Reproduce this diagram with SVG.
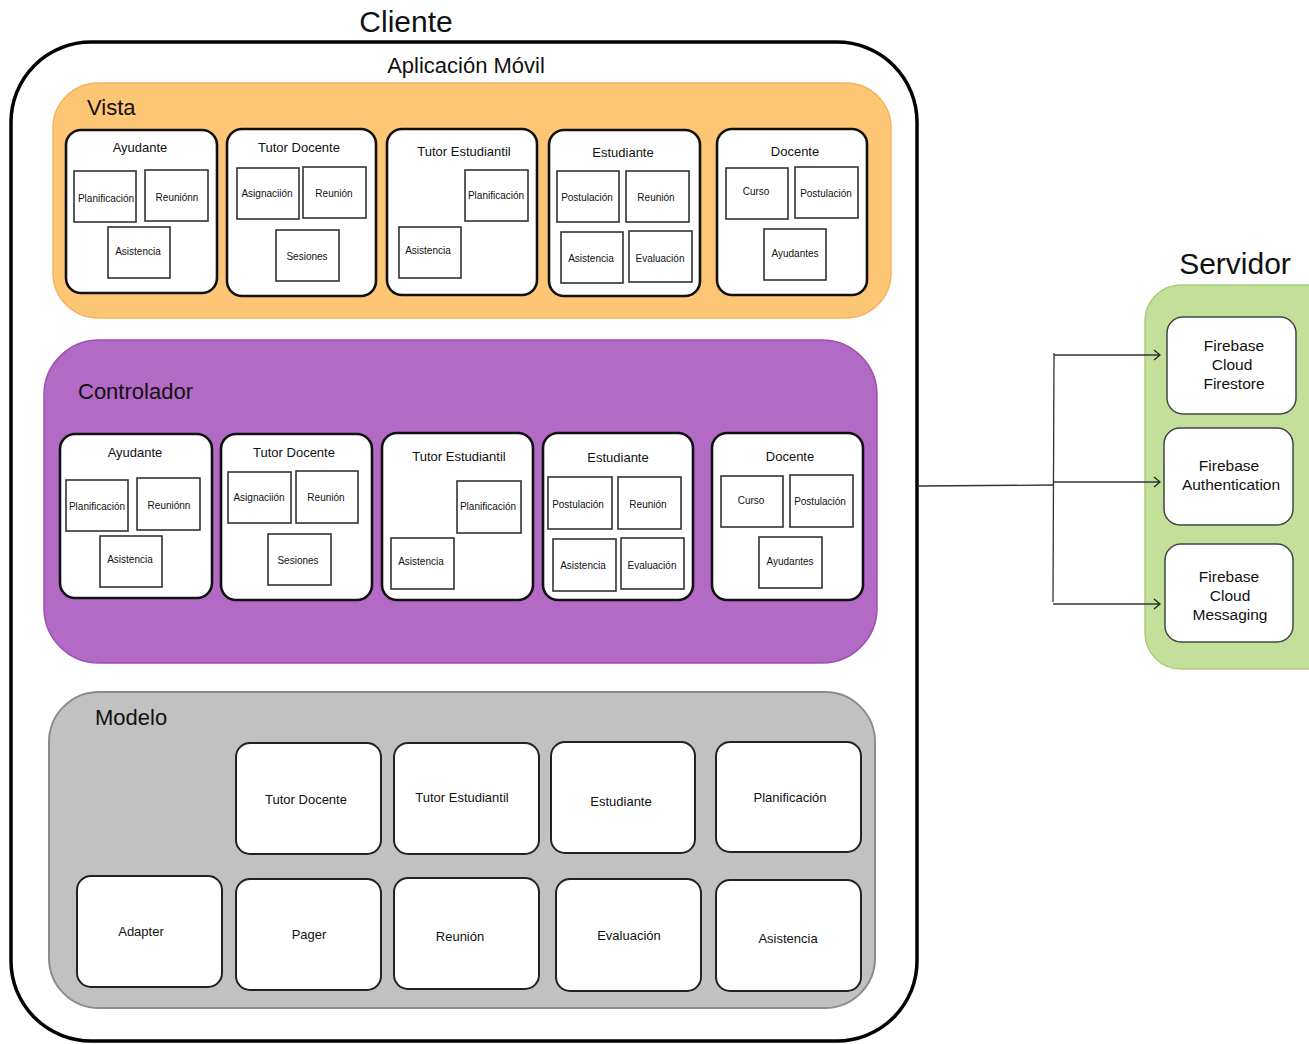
<svg xmlns="http://www.w3.org/2000/svg" width="1309" height="1044" viewBox="0 0 1309 1044">
<defs>
<style>
text{font-family:"Liberation Sans",Arial,sans-serif;fill:#111;text-anchor:middle;dominant-baseline:central}
.big{font-size:30px}
.layer{font-size:22px;text-anchor:start}
.t{font-size:13px}
.s{font-size:10px}
.m{font-size:13px}
.f{font-size:15.5px}
.card{fill:#fff;stroke:#111;stroke-width:2.6}
.sq{fill:#fff;stroke:#333;stroke-width:1.6}
.mcard{fill:#fff;stroke:#222;stroke-width:2}
.fcard{fill:#fff;stroke:#444;stroke-width:1.5}
.conn{fill:none;stroke:#333;stroke-width:1.3}
</style>
<marker id="arr" viewBox="0 0 10 12" refX="9" refY="6" markerWidth="10" markerHeight="12" markerUnits="userSpaceOnUse" orient="auto">
<path d="M3,1 L9,6 L3,11" fill="none" stroke="#222" stroke-width="1.3"/>
</marker>
</defs>
<rect width="1309" height="1044" fill="#fff"/>

<g id="cliente">
<text class="big" x="406" y="21">Cliente</text>
<rect x="11" y="42" width="906" height="999" rx="80" fill="#fff" stroke="#000" stroke-width="3.5"/>
<text x="466" y="65" style="font-size:22px">Aplicación Móvil</text>
</g>

<g id="vista">
<rect x="53" y="83" width="838" height="235" rx="45" fill="#FDC674" stroke="#F4B45E" stroke-width="1.5"/>
<text class="layer" x="87" y="107">Vista</text>
</g>
<g id="vista-ayudante">
<rect class="card" x="66" y="130" width="151" height="163" rx="15"/>
<text class="t" x="140" y="147">Ayudante</text>
<rect class="sq" x="74" y="171" width="62" height="51"/><text class="s" x="106" y="198">Planificación</text>
<rect class="sq" x="145" y="170" width="63" height="51"/><text class="s" x="177" y="197">Reuniónn</text>
<rect class="sq" x="108" y="227" width="62" height="51"/><text class="s" x="138" y="251">Asistencia</text>
</g>
<g id="vista-tutor-docente">
<rect class="card" x="227" y="129" width="149" height="167" rx="15"/>
<text class="t" x="299" y="147">Tutor Docente</text>
<rect class="sq" x="237" y="168" width="62" height="51"/><text class="s" x="267" y="193">Asignaciión</text>
<rect class="sq" x="303" y="167" width="63" height="51"/><text class="s" x="334" y="193">Reunión</text>
<rect class="sq" x="276" y="230" width="63" height="51"/><text class="s" x="307" y="256">Sesiones</text>
</g>
<g id="vista-tutor-estudiantil">
<rect class="card" x="387" y="129" width="150" height="166" rx="15"/>
<text class="t" x="464" y="151">Tutor Estudiantil</text>
<rect class="sq" x="465" y="170" width="63" height="51"/><text class="s" x="496" y="195">Planificación</text>
<rect class="sq" x="399" y="227" width="62" height="51"/><text class="s" x="428" y="250">Asistencia</text>
</g>
<g id="vista-estudiante">
<rect class="card" x="549" y="130" width="151" height="166" rx="15"/>
<text class="t" x="623" y="152">Estudiante</text>
<rect class="sq" x="557" y="171" width="62" height="51"/><text class="s" x="587" y="197">Postulación</text>
<rect class="sq" x="626" y="171" width="63" height="51"/><text class="s" x="656" y="197">Reunión</text>
<rect class="sq" x="561" y="232" width="62" height="51"/><text class="s" x="591" y="258">Asistencia</text>
<rect class="sq" x="629" y="231" width="63" height="51"/><text class="s" x="660" y="258">Evaluación</text>
</g>
<g id="vista-docente">
<rect class="card" x="717" y="129" width="150" height="166" rx="15"/>
<text class="t" x="795" y="151">Docente</text>
<rect class="sq" x="726" y="168" width="62" height="51"/><text class="s" x="756" y="191">Curso</text>
<rect class="sq" x="795" y="167" width="63" height="51"/><text class="s" x="826" y="193">Postulación</text>
<rect class="sq" x="764" y="229" width="62" height="51"/><text class="s" x="795" y="253">Ayudantes</text>
</g>

<g id="controlador">
<rect x="44" y="340" width="833" height="323" rx="55" fill="#B36AC4" stroke="#9C52AF" stroke-width="1.5"/>
<text class="layer" x="78" y="391">Controlador</text>
</g>
<g id="ctrl-ayudante">
<rect class="card" x="60" y="434" width="152" height="164" rx="15"/>
<text class="t" x="135" y="452">Ayudante</text>
<rect class="sq" x="66" y="480" width="62" height="51"/><text class="s" x="97" y="506">Planificación</text>
<rect class="sq" x="137" y="478" width="63" height="52"/><text class="s" x="169" y="505">Reuniónn</text>
<rect class="sq" x="100" y="536" width="62" height="51"/><text class="s" x="130" y="559">Asistencia</text>
</g>
<g id="ctrl-tutor-docente">
<rect class="card" x="221" y="434" width="151" height="166" rx="15"/>
<text class="t" x="294" y="452">Tutor Docente</text>
<rect class="sq" x="228" y="472" width="63" height="51"/><text class="s" x="259" y="497">Asignaciión</text>
<rect class="sq" x="296" y="471" width="62" height="52"/><text class="s" x="326" y="497">Reunión</text>
<rect class="sq" x="268" y="534" width="63" height="51"/><text class="s" x="298" y="560">Sesiones</text>
</g>
<g id="ctrl-tutor-estudiantil">
<rect class="card" x="382" y="433" width="151" height="167" rx="15"/>
<text class="t" x="459" y="456">Tutor Estudiantil</text>
<rect class="sq" x="457" y="481" width="64" height="52"/><text class="s" x="488" y="506">Planificación</text>
<rect class="sq" x="391" y="538" width="63" height="51"/><text class="s" x="421" y="561">Asistencia</text>
</g>
<g id="ctrl-estudiante">
<rect class="card" x="543" y="433" width="150" height="167" rx="15"/>
<text class="t" x="618" y="457">Estudiante</text>
<rect class="sq" x="548" y="477" width="64" height="52"/><text class="s" x="578" y="504">Postulación</text>
<rect class="sq" x="618" y="477" width="63" height="52"/><text class="s" x="648" y="504">Reunión</text>
<rect class="sq" x="553" y="539" width="63" height="52"/><text class="s" x="583" y="565">Asistencia</text>
<rect class="sq" x="621" y="538" width="63" height="51"/><text class="s" x="652" y="565">Evaluación</text>
</g>
<g id="ctrl-docente">
<rect class="card" x="712" y="433" width="151" height="167" rx="15"/>
<text class="t" x="790" y="456">Docente</text>
<rect class="sq" x="721" y="476" width="62" height="51"/><text class="s" x="751" y="500">Curso</text>
<rect class="sq" x="790" y="475" width="63" height="52"/><text class="s" x="820" y="501">Postulación</text>
<rect class="sq" x="759" y="537" width="63" height="51"/><text class="s" x="790" y="561">Ayudantes</text>
</g>

<g id="modelo">
<rect x="49" y="692" width="826" height="316" rx="50" fill="#C1C1C1" stroke="#8C8C8C" stroke-width="2"/>
<text class="layer" x="95" y="717">Modelo</text>
</g>
<g id="m-tutor-docente"><rect class="mcard" x="236" y="743" width="145" height="111" rx="14"/><text class="m" x="306" y="799">Tutor Docente</text></g>
<g id="m-tutor-estudiantil"><rect class="mcard" x="394" y="743" width="145" height="111" rx="14"/><text class="m" x="462" y="797">Tutor Estudiantil</text></g>
<g id="m-estudiante"><rect class="mcard" x="551" y="742" width="144" height="111" rx="14"/><text class="m" x="621" y="801">Estudiante</text></g>
<g id="m-planificacion"><rect class="mcard" x="716" y="742" width="145" height="110" rx="14"/><text class="m" x="790" y="797">Planificación</text></g>
<g id="m-adapter"><rect class="mcard" x="77" y="876" width="145" height="111" rx="14"/><text class="m" x="141" y="931">Adapter</text></g>
<g id="m-pager"><rect class="mcard" x="236" y="879" width="145" height="111" rx="14"/><text class="m" x="309" y="934">Pager</text></g>
<g id="m-reunion"><rect class="mcard" x="394" y="878" width="145" height="111" rx="14"/><text class="m" x="460" y="936">Reunión</text></g>
<g id="m-evaluacion"><rect class="mcard" x="556" y="879" width="145" height="112" rx="14"/><text class="m" x="629" y="935">Evaluación</text></g>
<g id="m-asistencia"><rect class="mcard" x="716" y="880" width="145" height="111" rx="14"/><text class="m" x="788" y="938">Asistencia</text></g>

<g id="servidor">
<text class="big" x="1235" y="263">Servidor</text>
<rect x="1145" y="285" width="200" height="384" rx="36" fill="#C3E09B" stroke="#A8CD7E" stroke-width="1.5"/>
</g>
<g id="firestore">
<rect class="fcard" x="1167" y="317" width="129" height="97" rx="16"/>
<text class="f" x="1234" y="345">Firebase</text><text class="f" x="1232" y="364">Cloud</text><text class="f" x="1234" y="383">Firestore</text>
</g>
<g id="authentication">
<rect class="fcard" x="1164" y="428" width="129" height="97" rx="16"/>
<text class="f" x="1229" y="465">Firebase</text><text class="f" x="1231" y="484">Authentication</text>
</g>
<g id="messaging">
<rect class="fcard" x="1165" y="544" width="128" height="98" rx="16"/>
<text class="f" x="1229" y="576">Firebase</text><text class="f" x="1230" y="595">Cloud</text><text class="f" x="1230" y="614">Messaging</text>
</g>

<g id="connectors">
<path class="conn" d="M919,486 L1054,485"/>
<path class="conn" d="M1054,353 L1053,602"/>
<path class="conn" d="M1054,355 L1160,355" marker-end="url(#arr)"/>
<path class="conn" d="M1054,482 L1160,482" marker-end="url(#arr)"/>
<path class="conn" d="M1053,604 L1160,604" marker-end="url(#arr)"/>
</g>
</svg>
